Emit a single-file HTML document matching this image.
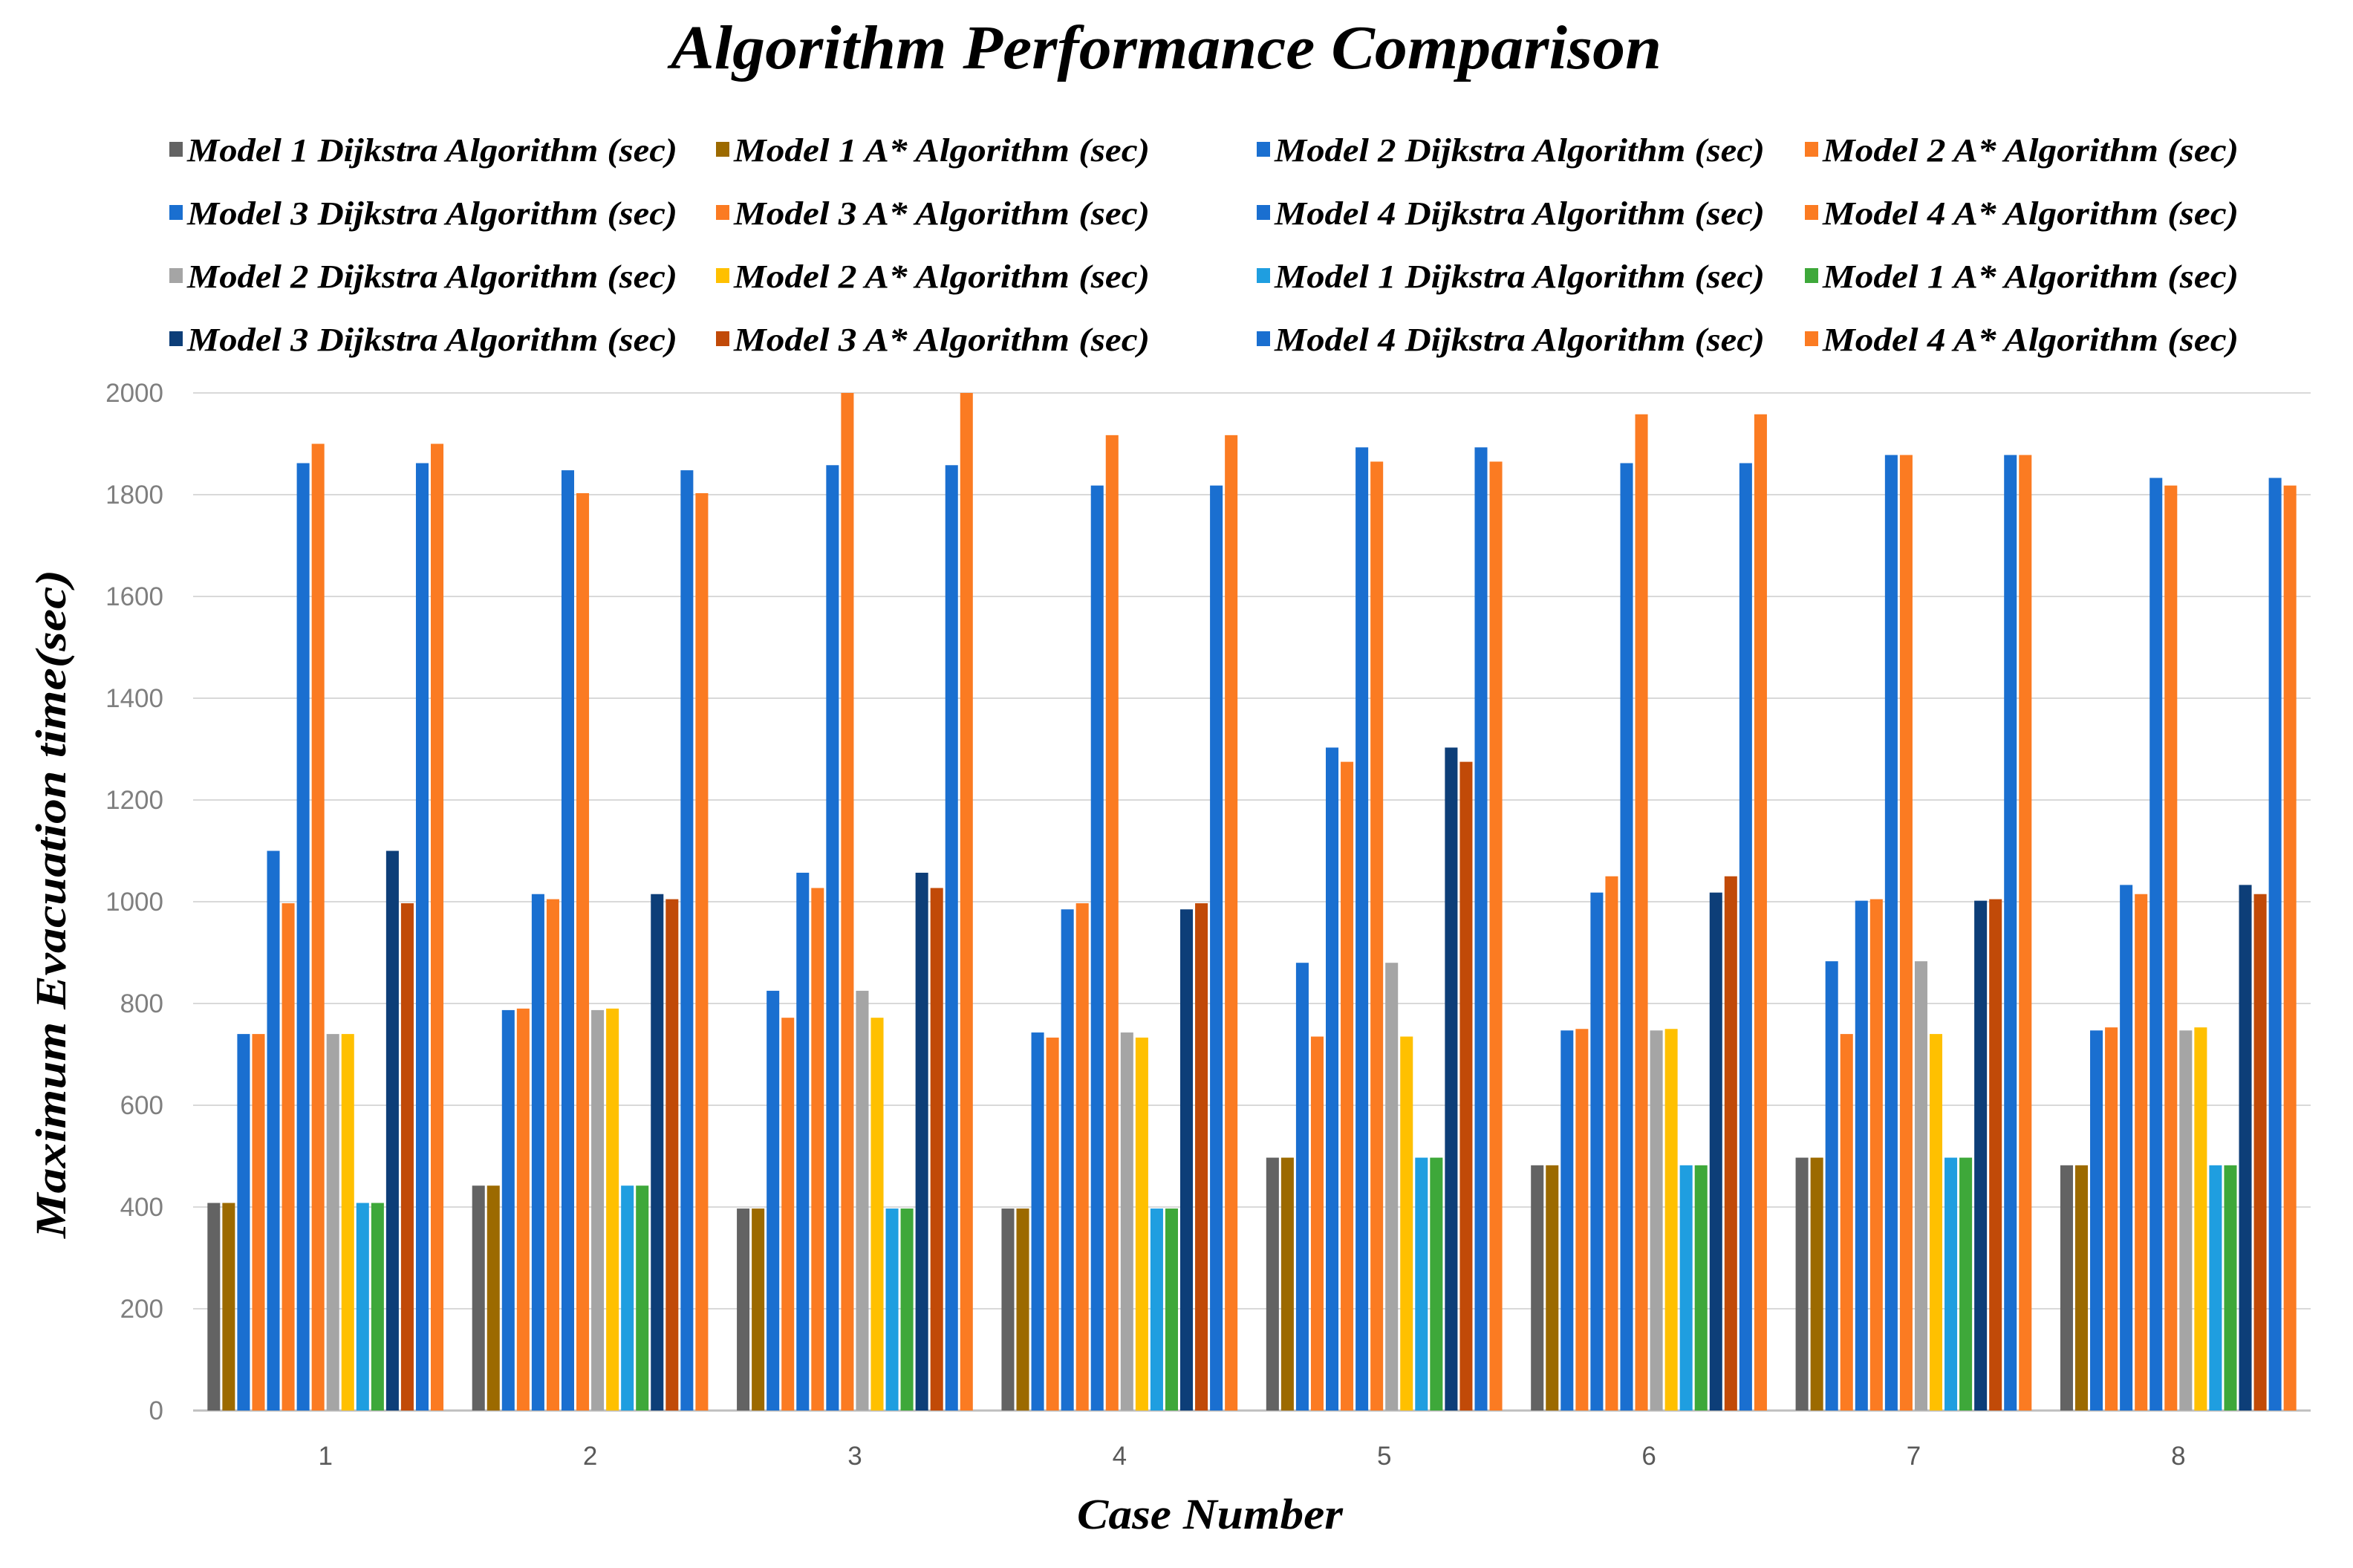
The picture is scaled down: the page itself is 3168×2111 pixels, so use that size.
<!DOCTYPE html>
<html><head><meta charset="utf-8"><style>
html,body{margin:0;padding:0;background:#fff;}
svg{display:block;}
</style></head><body>
<svg id="chart" width="3168" height="2111" viewBox="0 0 3168 2111" xmlns="http://www.w3.org/2000/svg">
<rect width="3168" height="2111" fill="#fff"/>
<text x="1570" y="92" text-anchor="middle" font-family="Liberation Serif, serif" font-weight="bold" font-style="italic" font-size="84" textLength="1334" lengthAdjust="spacingAndGlyphs">Algorithm Performance Comparison</text>
<g id="legend"></g>
<g id="grid"></g>
<g id="yticks"></g>
<g id="bars"></g>
<g id="xticks"></g>
<text transform="translate(88,1217) rotate(-90)" text-anchor="middle" font-family="Liberation Serif, serif" font-weight="bold" font-style="italic" font-size="58" textLength="900" lengthAdjust="spacingAndGlyphs">Maximum Evacuation time(sec)</text>
<text x="1629" y="2058" text-anchor="middle" font-family="Liberation Serif, serif" font-weight="bold" font-style="italic" font-size="58" textLength="358" lengthAdjust="spacingAndGlyphs">Case Number</text>
</svg>
<script>
const categories = ["1","2","3","4","5","6","7","8"];
const seriesNames = ["Model 1 Dijkstra Algorithm (sec)","Model 1 A* Algorithm (sec)","Model 2 Dijkstra Algorithm (sec)","Model 2 A* Algorithm (sec)","Model 3 Dijkstra Algorithm (sec)","Model 3 A* Algorithm (sec)","Model 4 Dijkstra Algorithm (sec)","Model 4 A* Algorithm (sec)","Model 2 Dijkstra Algorithm (sec)","Model 2 A* Algorithm (sec)","Model 1 Dijkstra Algorithm (sec)","Model 1 A* Algorithm (sec)","Model 3 Dijkstra Algorithm (sec)","Model 3 A* Algorithm (sec)","Model 4 Dijkstra Algorithm (sec)","Model 4 A* Algorithm (sec)"];
const seriesColors = ["#636363","#9c6a00","#1a6fd0","#fb7b22","#1a6fd0","#fb7b22","#1a6fd0","#fb7b22","#a5a5a5","#ffc000","#1f9ee0","#3ea83a","#0d3e78","#c14a08","#1a6fd0","#fb7b22"];
const m1d = [408,442,397,397,497,482,497,482];
const m1a = [408,442,397,397,497,482,497,482];
const m2d = [740,787,825,743,880,747,883,747];
const m2a = [740,790,772,733,735,750,740,753];
const m3d = [1100,1015,1057,985,1303,1018,1002,1033];
const m3a = [997,1005,1027,997,1275,1050,1005,1015];
const m4d = [1862,1848,1858,1818,1893,1862,1878,1833];
const m4a = [1900,1803,2000,1917,1865,1958,1878,1818];
const m2d2 = [740,787,825,743,880,747,883,747];
const m2a2 = [740,790,772,733,735,750,740,753];
const m1d2 = [408,442,397,397,497,482,497,482];
const m1a2 = [408,442,397,397,497,482,497,482];
const m3d2 = [1100,1015,1057,985,1303,1018,1002,1033];
const m3a2 = [997,1005,1027,997,1275,1050,1005,1015];
const m4d2 = [1862,1848,1858,1818,1893,1862,1878,1833];
const m4a2 = [1900,1803,2000,1917,1865,1958,1878,1818];
const yTicks = [0,200,400,600,800,1000,1200,1400,1600,1800,2000];

const series = [m1d,m1a,m2d,m2a,m3d,m3a,m4d,m4a,m2d2,m2a2,m1d2,m1a2,m3d2,m3a2,m4d2,m4a2];
const NS = "http://www.w3.org/2000/svg";
const PL = 260, PR = 3111, PT = 529, PB = 1899, YMAX = 2000;
const groupW = (PR - PL) / categories.length;
function y(v){ return PB - (v / YMAX) * (PB - PT); }
function xGroup(i){ return PL + i * groupW; }
const slot = groupW * 0.9 / series.length;
const barW = slot * 0.85;
function xBar(i, s){ return xGroup(i) + groupW * 0.05 + s * slot + (slot - barW) / 2; }
function mk(tag, attrs, parent){ const e = document.createElementNS(NS, tag); for (const k in attrs) e.setAttribute(k, attrs[k]); parent.appendChild(e); return e; }

const grid = document.getElementById('grid');
const yt = document.getElementById('yticks');
yTicks.forEach(t => {
  const l = mk('line', {x1: PL, x2: PR, y1: y(t), y2: y(t), stroke: t === 0 ? '#bfbfbf' : '#d9d9d9', 'stroke-width': t === 0 ? 3 : 2}, grid);
  
  
  const tx = mk('text', {x: 220, y: y(t) + 12, 'text-anchor': 'end', 'font-family': 'Liberation Sans, sans-serif', 'font-size': 35, fill: '#7f7f7f'}, yt);
  tx.textContent = t;
  
  
});

const bars = document.getElementById('bars');
categories.forEach((c, i) => {
  series.forEach((arr, s) => {
    const v = arr[i];
    const r = mk('rect', {x: xBar(i, s), y: y(v), width: barW, height: PB - y(v), fill: seriesColors[s]}, bars);
    
    
  });
  const tx = mk('text', {x: xGroup(i) + groupW / 2, y: 1972, 'text-anchor': 'middle', 'font-family': 'Liberation Sans, sans-serif', 'font-size': 35, fill: '#595959'}, document.getElementById('xticks'));
  tx.textContent = c;
  
  
});

const legend = document.getElementById('legend');
const colX = [228, 964, 1692, 2430];
const rowY = [204, 289, 374, 459];
seriesNames.forEach((n, s) => {
  const col = s % 4, row = Math.floor(s / 4);
  const g = mk('g', {}, legend);
  
  
  mk('rect', {x: colX[col], y: rowY[row] - 13, width: 18, height: 20, fill: seriesColors[s]}, g);
  const t = mk('text', {x: colX[col] + 24, y: rowY[row] + 13, 'font-family': 'Liberation Serif, serif', 'font-weight': 'bold', 'font-style': 'italic', 'font-size': 44, textLength: n.indexOf('Dijkstra') >= 0 ? 660 : 560, lengthAdjust: 'spacingAndGlyphs'}, g);
  t.textContent = n;
});
</script>
</body></html>
